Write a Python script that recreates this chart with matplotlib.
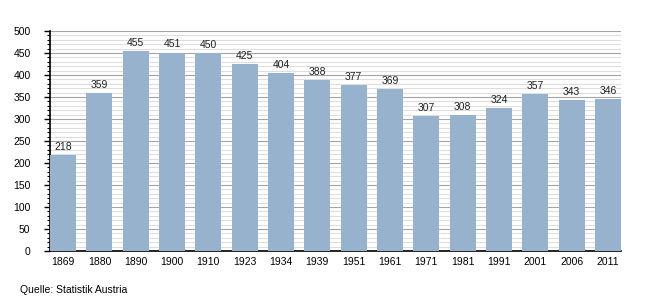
import matplotlib
matplotlib.use("Agg")
import matplotlib.pyplot as plt
from matplotlib.ticker import MultipleLocator

plt.rcParams['font.family'] = ['Liberation Sans', 'DejaVu Sans']

years = ["1869", "1880", "1890", "1900", "1910", "1923", "1934", "1939",
         "1951", "1961", "1971", "1981", "1991", "2001", "2006", "2011"]
values = [218, 359, 455, 451, 450, 425, 404, 388, 377, 369, 307, 308, 324, 357, 343, 346]

fig = plt.figure(figsize=(6.5, 3), dpi=100)
ax = fig.add_axes([50 / 650, 49 / 300, 571 / 650, 220 / 300])

x = list(range(len(years)))
ax.bar(x, values, width=0.72, color="#97b2cc", zorder=3)
# Werte über den Balken
for xi, v in zip(x, values):
    ax.text(xi, v + 7, str(v), ha="center", va="bottom", fontsize=7.5, color="#222222", zorder=4)

ax.set_xlim(-0.36, len(years) - 1 + 0.36)
ax.set_ylim(0, 500)
ax.set_xticks(x)
ax.set_xticklabels(years)
ax.yaxis.set_major_locator(MultipleLocator(50))
ax.yaxis.set_minor_locator(MultipleLocator(10))
ax.grid(axis="y", which="minor", color="#dedede", linewidth=0.8, zorder=0)
ax.grid(axis="y", which="major", color="#a4a4a4", linewidth=0.8, zorder=1)

for s in ["top", "right"]:
    ax.spines[s].set_visible(False)
ax.spines["left"].set_linewidth(1.2)
ax.spines["bottom"].set_linewidth(1.2)
ax.tick_params(axis="x", length=0, labelsize=7.5, pad=4)
ax.tick_params(axis="y", which="major", length=4, width=1, labelsize=7.5, pad=10)
ax.tick_params(axis="y", which="minor", length=2.5, width=0.8)

fig.text(20 / 650, 1 - 290 / 300, "Quelle: Statistik Austria", fontsize=7.5, va="center", ha="left")

fig.savefig("out.png", dpi=100)
